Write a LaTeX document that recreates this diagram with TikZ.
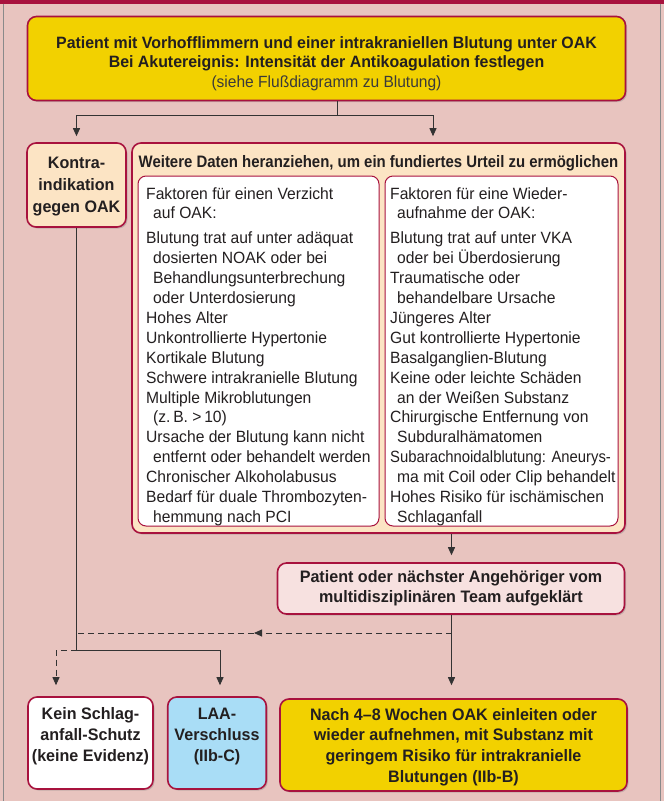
\documentclass[tikz,border=0pt]{standalone}
\usepackage{fontspec}
\setmainfont{Liberation Sans}[FakeStretch=0.96, BoldFeatures={FakeStretch=0.97}]
\newfontfamily\headfont{Liberation Sans}[FakeStretch=0.9]
\newfontfamily\narrowfont{Liberation Sans}[FakeStretch=0.91]
\usetikzlibrary{arrows.meta,shadows}
\definecolor{bg}{HTML}{E8C4BF}
\definecolor{dred}{HTML}{A8123E}
\definecolor{yel}{HTML}{F2D100}
\definecolor{peach}{HTML}{FCE4C4}
\definecolor{pinkbox}{HTML}{F7E1E0}
\definecolor{lblue}{HTML}{A9DDF6}
\definecolor{ln}{HTML}{333333}
\definecolor{txt}{HTML}{231F20}
\definecolor{subtxt}{HTML}{3A3A3A}
\definecolor{frame}{HTML}{8A8A8A}
\newcommand{\ind}{\hspace*{7pt}}
\begin{document}
\begin{tikzpicture}[x=1pt,y=-1pt,
  box/.style={draw=dred, line width=1.6pt, rounded corners=9pt, align=center,
    inner sep=0pt, text=txt, drop shadow={shadow xshift=1.5pt, shadow yshift=-1.5pt, opacity=0.35}},
  inbox/.style={draw=dred, line width=1pt, rounded corners=8pt, fill=white, inner sep=0pt},
  btext/.style={font=\fontsize{16.6}{20.8}\selectfont\bfseries, text=txt, align=center},
  itext/.style={font=\fontsize{16.3}{19.9}\selectfont, text=txt, align=left, inner sep=0pt, anchor=north west},
  ln1/.style={draw=ln, line width=0.9pt},
  arr/.style={ln1, -{Triangle[length=8pt,width=7pt]}},
  dsh/.style={dash pattern=on 6pt off 4pt}
]
\fill[bg] (0,0) rectangle (664,801);
\useasboundingbox (0,0) rectangle (664,801);
\fill[dred] (0,0) rectangle (664,3.5);
\draw[frame, line width=1pt] (3.5,3.5) -- (3.5,801);
\draw[frame, line width=1pt] (660,3.5) -- (660,801);

% top box
\node[box, fill=yel, minimum width=598pt, minimum height=84pt] (top) at (326.5,58.5) {};
\node[btext, inner sep=0pt, font=\fontsize{16.4}{19.5}\selectfont\bfseries] (toptext)
  at ([yshift=-5pt]top.center)
  {Patient mit Vorhofflimmern und einer intrakraniellen Blutung unter OAK\\
   Bei Akutereignis: Intensität der Antikoagulation festlegen\\
   {\mdseries\fontsize{16.2}{19.5}\selectfont\color{subtxt}(siehe Flußdiagramm zu Blutung)}};

% Kontra box
\node[box, fill=peach, minimum width=99pt, minimum height=84pt, btext,
  font=\fontsize{16.6}{22}\selectfont\bfseries] (kontra) at (76.5,185)
  {\rule{0pt}{14pt}Kontra-\\indikation\\gegen OAK};

% outer box
\node[box, fill=peach, minimum width=493pt, minimum height=390pt] (outer) at (378.5,338) {};
\node[btext, inner sep=0pt, font=\headfont\fontsize{16.6}{20}\selectfont\bfseries] (head) at (378.5,163)
  {Weitere Daten heranziehen, um ein fundiertes Urteil zu ermöglichen};

\node[inbox, minimum width=241pt, minimum height=350pt] (inl) at (258.5,351) {};
\node[inbox, minimum width=233pt, minimum height=350pt] (inr) at (501.5,351) {};

\node[itext] (tl) at (146,187) {Faktoren für einen Verzicht\\
\ind auf OAK:\\[5pt]
Blutung trat auf unter adäquat\\
\ind dosierten NOAK oder bei\\
\ind Behandlungsunterbrechung\\
\ind oder Unterdosierung\\
Hohes Alter\\
Unkontrollierte Hypertonie\\
Kortikale Blutung\\
Schwere intrakranielle Blutung\\
Multiple Mikroblutungen\\
\ind (z.\,B. >\,10)\\
Ursache der Blutung kann nicht\\
\ind entfernt oder behandelt werden\\
Chronischer Alkoholabusus\\
Bedarf für duale Thrombozyten-\\
\ind hemmung nach PCI};

\node[itext] (tr) at (390,187) {Faktoren für eine Wieder-\\
\ind aufnahme der OAK:\\[5pt]
Blutung trat auf unter VKA\\
\ind oder bei Überdosierung\\
Traumatische oder\\
\ind behandelbare Ursache\\
Jüngeres Alter\\
Gut kontrollierte Hypertonie\\
Basalganglien-Blutung\\
Keine oder leichte Schäden\\
\ind an der Weißen Substanz\\
Chirurgische Entfernung von\\
\ind Subduralhämatomen\\
{\narrowfont Subarachnoidalblutung: Aneurys-}\\
\ind ma mit Coil oder Clip behandelt\\
Hohes Risiko für ischämischen\\
\ind Schlaganfall};

% Patient box
\node[box, fill=pinkbox, minimum width=347pt, minimum height=51pt, btext,
  font=\fontsize{16.6}{20}\selectfont\bfseries] (pat) at (451,588.5)
  {Patient oder nächster Angehöriger vom\\multidisziplinären Team aufgeklärt};

% bottom boxes
\node[box, fill=white, minimum width=125pt, minimum height=92pt, btext] (kein) at (90.5,743)
  {Kein Schlag-\\anfall-Schutz\\(keine Evidenz)\\[-10pt]\strut};
\node[box, fill=lblue, minimum width=98.5pt, minimum height=92pt, btext] (laa) at (217,743)
  {LAA-\\Verschluss\\(IIb-C)\\[-10pt]\strut};
\node[box, fill=yel, minimum width=347pt, minimum height=92pt] (nach) at (453.5,745) {};
\node[btext, inner sep=0pt] (nachtext) at ([yshift=-2pt]nach.center)
  {Nach 4–8 Wochen OAK einleiten oder\\wieder aufnehmen, mit Substanz mit\\geringem Risiko für intrakranielle\\Blutungen (IIb-B)};

% helper coordinates
\coordinate (xa) at (337,0);
\coordinate (xb) at (433,0);
\coordinate (xm) at (451.5,0);
\coordinate (xl) at (220,0);
\coordinate (xk) at (56,0);
\coordinate (xarr) at (254,0);
\coordinate (yj1) at (0,115);
\coordinate (yj2) at (0,650);
\coordinate (yd) at (0,633);

% connectors
\draw[ln1] (top.south -| xa) -- (xa |- yj1);
\draw[arr, shorten >=6pt] (xa |- yj1) -| (kontra.north);
\draw[arr, shorten >=6pt] (xa |- yj1) -| (outer.north -| xb);
\draw[arr, shorten >=11pt] (kontra.south) |- (xl |- yj2) -- (laa.north -| xl);
\draw[arr, shorten >=7pt] (outer.south -| xm) -- (pat.north -| xm);
\draw[arr, shorten >=13pt] (pat.south -| xm) -- (nach.north -| xm);
\draw[arr, dsh] (xm |- yd) -- (xarr |- yd);
\draw[ln1, dsh] (xarr |- yd) -- (kontra.south |- yd);
\draw[arr, dsh, shorten >=11pt] (kontra.south |- yj2) -- (xk |- yj2) -- (kein.north -| xk);
\end{tikzpicture}
\end{document}
